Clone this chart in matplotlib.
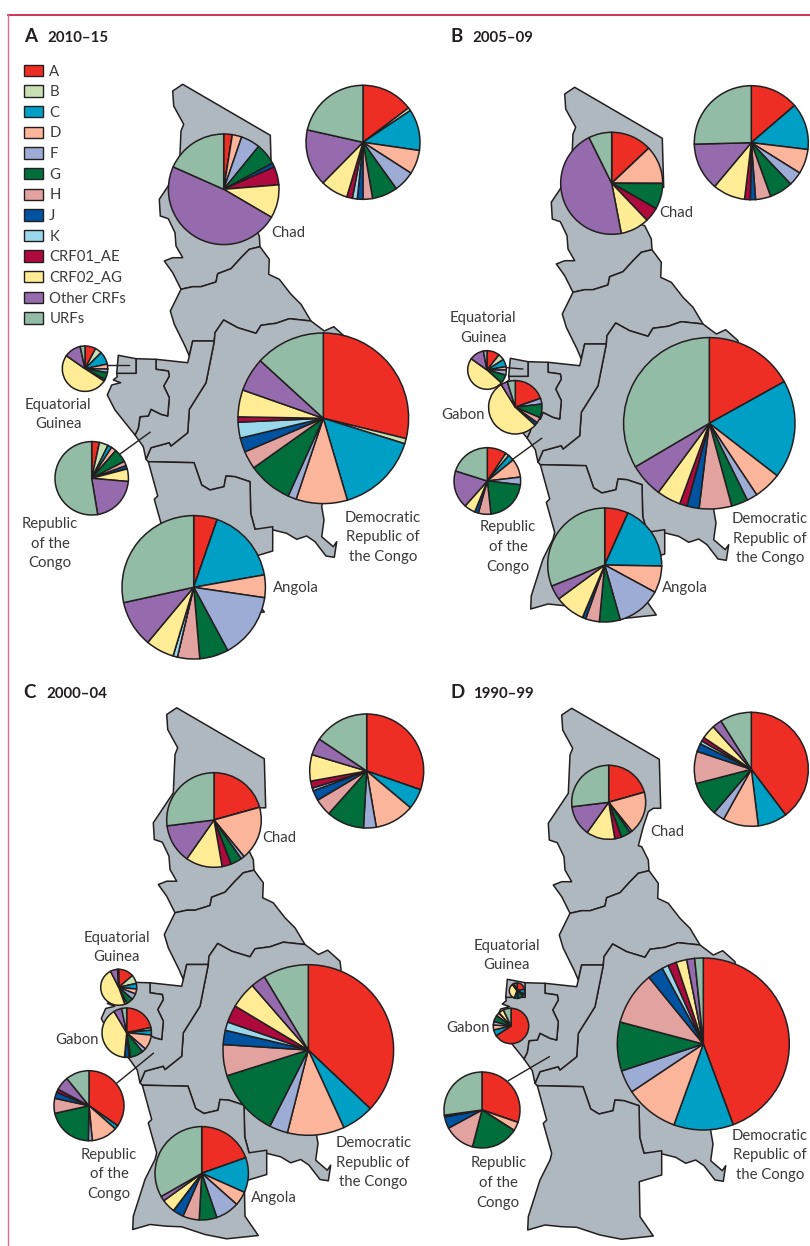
from matplotlib import pyplot as plt
from matplotlib.patches import Patch, Polygon

plt.rcParams['font.family'] = ['Lato', 'DejaVu Sans']

subtypes = ["A", "B", "C", "D", "F", "G", "H", "J", "K", "CRF01_AE", "CRF02_AG", "Other CRFs", "URFs"]
colours = ["#EE2E24", "#C9E0B4", "#00A0C6", "#FBB59B", "#9DACD5", "#006F3C", "#E2A2A0",
           "#0053A0", "#9BD7EA", "#AE0A3E", "#FFEC95", "#956BAD", "#92BCA5"]

# Shares per subtype, same order as subtypes.
#            A     B    C     D     F     G     H    J    K    01   02    oth   urf
a_region = [14.7, 0.9, 11.7, 6.8, 6.0, 7.2, 2.7, 1.6, 1.4, 1.6, 7.8, 16.1, 21.5]
a_chad = [2.5, 0, 0, 2.75, 5.6, 6.3, 0, 1.2, 0, 5.3, 9.7, 48.1, 18.3]
a_eqg = [7.7, 4.8, 9.2, 3.5, 2.6, 5.0, 1.4, 0, 0, 0, 50.4, 11.9, 3.4]
a_congo = [3.4, 3.9, 1.8, 2.3, 0, 6.0, 2.0, 1.5, 0, 0, 5.5, 21.0, 52.6]
a_drc = [28.8, 1.0, 15.6, 9.7, 1.6, 8.4, 3.4, 2.7, 3.0, 1.0, 5.1, 6.4, 13.2]
a_angola = [5.3, 0, 16.9, 5.1, 14.8, 6.5, 5.0, 0, 1.0, 0, 6.4, 10.5, 28.4]

b_region = [13.7, 0, 13.2, 7.0, 4.0, 6.6, 4.3, 1.5, 0, 1.6, 9.2, 13.5, 25.4]
b_chad = [12.9, 0, 0, 12.1, 0, 8.2, 0, 0, 0, 4.6, 9.1, 45.6, 7.3]
b_eqg = [10.7, 5.2, 6.3, 2.8, 4.2, 7.5, 0, 0, 0, 0, 48.2, 12.1, 3.0]
b_gabon = [19.6, 0, 0, 0, 3.4, 8.3, 3.4, 2.0, 0, 0, 54.4, 4.0, 4.8]
b_congo = [9.4, 1.7, 3.0, 9.0, 3.7, 21.4, 6.1, 1.8, 0, 0, 5.4, 18.3, 20.1]
b_drc = [16.9, 0, 18.5, 5.2, 2.0, 3.1, 6.1, 2.3, 0, 1.4, 4.5, 6.4, 33.4]
b_angola = [6.7, 0, 18.6, 7.6, 12.7, 5.9, 3.9, 1.0, 0, 0, 8.5, 4.1, 31.0]

c_region = [30.4, 0, 5.8, 11.2, 3.6, 10.7, 4.9, 2.9, 0.8, 2.0, 7.5, 4.8, 15.6]
c_chad = [20.7, 0, 0, 18.4, 1.2, 3.9, 0, 0, 0, 3.1, 12.5, 13.3, 27.0]
c_eqg = [13.6, 7.7, 5.0, 4.4, 5.3, 6.0, 2.0, 0, 0, 0, 47.5, 6.4, 1.0]
c_gabon = [21.7, 1.7, 3.2, 9.8, 2.6, 8.5, 1.0, 3.0, 0, 0, 40.0, 5.3, 3.3]
c_congo = [34.7, 0, 1.8, 12.0, 1.8, 21.2, 6.9, 2.9, 0, 1.5, 0, 6.3, 10.9]
c_drc = [37.1, 0, 6.1, 10.8, 3.5, 12.7, 5.9, 2.7, 1.6, 3.3, 5.0, 2.8, 8.6]
c_angola = [19.6, 0, 12.1, 4.9, 8.2, 6.1, 5.7, 3.8, 0, 0, 4.7, 1.7, 33.3]

d_region = [39.7, 0, 8.3, 10.0, 3.2, 9.7, 9.1, 2.3, 0.9, 1.1, 4.0, 2.7, 8.9]
d_chad = [20.6, 0, 0, 18.6, 1.0, 4.2, 0, 0, 0, 2.9, 12.5, 13.2, 26.9]
d_eqg = [22, 0, 10, 0, 4, 12, 0, 8, 0, 0, 34, 4, 6]
d_gabon = [65.8, 0, 5.6, 4.4, 3.3, 5.8, 3.4, 0, 0, 0, 4.6, 0, 7.0]
d_congo = [30.2, 0, 0, 3.7, 0, 20.0, 13.0, 5.0, 0, 0.7, 0, 0, 27.1]
d_drc = [44.4, 0, 11.2, 10.1, 4.3, 9.2, 10.0, 3.0, 1.2, 1.6, 2.0, 1.5, 1.6]

# Pie placement in image pixels: values, centre x, centre y, radius
pies = [
    (a_region, 363, 142.3, 57), (a_chad, 223.7, 189.3, 55.3), (a_eqg, 85, 368.7, 22.7),
    (a_congo, 91.7, 478.3, 36.7), (a_drc, 323.3, 418.3, 85.3), (a_angola, 193.7, 587.3, 71.7),
    (b_region, 751.3, 142.7, 57), (b_chad, 611.7, 183.3, 51), (b_eqg, 487, 370, 19.3),
    (b_gabon, 515.3, 407.3, 26.7), (b_congo, 487.3, 481, 33.3), (b_drc, 709.3, 423.3, 85.7),
    (b_angola, 604.7, 565, 57),
    (c_region, 366.7, 771, 57), (c_chad, 214, 820, 47.3), (c_eqg, 118.7, 987.3, 18),
    (c_gabon, 126.7, 1032.7, 24.7), (c_congo, 89, 1105.7, 35), (c_drc, 308.3, 1050, 85.3),
    (c_angola, 201.7, 1173.3, 46.7),
    (d_region, 751.3, 769.3, 57), (d_chad, 608.7, 802.3, 37), (d_eqg, 517, 990.7, 7.7),
    (d_gabon, 511, 1026, 17.7), (d_congo, 482, 1110, 38), (d_drc, 703.3, 1044, 86),
]

# Country outlines, other panels are shifted copies
chad = [(571.7, 708.3), (561.7, 715), (562.7, 730), (572.7, 748.3), (570, 755), (568.3, 793.3),
        (548.3, 823.3), (549.3, 840), (557.3, 842.7), (564, 856.7), (565, 870), (571.7, 881.7),
        (561.7, 881.7), (553.3, 885), (561.7, 896.7), (570, 913.3), (581.7, 910.7), (590, 910.7),
        (605, 906), (606.7, 897.7), (620, 892.7), (630, 881.7), (638.3, 873.3), (649, 870.7),
        (648.3, 860), (641.7, 846.7), (638.3, 845.7), (643.3, 826.7), (648.3, 811.7),
        (653.3, 808.3), (660.7, 808.3), (659.3, 759.3)]
car = [(570, 913.3), (581.7, 910.7), (590, 910.7), (605, 906), (606.7, 897.7), (620, 892.7),
       (630, 881.7), (638.3, 873.3), (649, 870.7), (658.3, 883.3), (657.7, 898.3), (668.3, 903.3),
       (680, 918.3), (690, 928.3), (700, 945), (678.3, 942.7), (665, 947.3), (650, 949.3),
       (645, 957.3), (626.7, 951.7), (612.7, 944), (604, 956.7), (603.3, 965), (581.7, 965),
       (578.3, 980), (574, 970), (563.3, 948.3), (559.3, 935)]
drc = [(604, 956.7), (612.7, 944), (626.7, 951.7), (645, 957.3), (650, 949.3), (665, 947.3),
       (678.3, 942.7), (700, 945), (713.3, 955), (722.7, 950.7), (735, 961.7), (736, 970),
       (710.7, 1130.7), (713, 1144), (710.7, 1160.7), (722.3, 1170.7), (725.7, 1165.7),
       (723.3, 1181.3), (715, 1180), (704, 1165.7), (695.7, 1160), (685.7, 1163.3), (675.7, 1157.3),
       (662.3, 1154), (644, 1153.3), (639.7, 1137.3), (639, 1105.7), (624, 1100.7), (615, 1100),
       (613, 1110.7), (599, 1114), (590.7, 1109), (583, 1086.7), (537.3, 1085.7), (535, 1083.3),
       (540, 1071.7), (558.3, 1066.7), (560, 1070), (576.7, 1056.7), (578.3, 1033.3), (595, 1006.7),
       (603.3, 965)]
congo = [(545, 983.3), (576.7, 986.7), (578.3, 980), (581.7, 965), (603.3, 965), (595, 1006.7),
         (578.3, 1033.3), (576.7, 1056.7), (560, 1070), (558.3, 1066.7), (540, 1071.7), (535, 1083.3),
         (532.3, 1070.7), (524, 1059), (527.3, 1052.3), (529, 1040.7), (537.3, 1040), (540, 1033.3),
         (550, 1038.3), (556.7, 1040), (558.3, 1021.7), (552.7, 1010), (558.3, 1000), (557.3, 995),
         (545, 993.3)]
gabon = [(525, 982.7), (545, 983.3), (545, 993.3), (557.3, 995), (558.3, 1000), (552.7, 1010),
         (558.3, 1021.7), (556.7, 1040), (550, 1038.3), (540, 1033.3), (537.3, 1040), (529, 1040.7),
         (527.3, 1052.3), (524, 1059), (504, 1034), (496.3, 1019), (500.7, 1009), (509.7, 1006.7),
         (502.3, 1004), (506.3, 1000.7), (505.7, 997.3), (525, 997.3)]
eq_guinea = [(507.3, 979.3), (525, 982.7), (525, 997.3), (505.7, 997.3)]
angola = [(537.3, 1085.7), (583, 1086.7), (590.7, 1109), (599, 1114), (613, 1110.7), (615, 1100),
          (624, 1100.7), (639, 1105.7), (639.7, 1137.3), (644, 1153.3), (661.7, 1150.7), (661.7, 1175),
          (639.3, 1181.7), (640, 1216.7), (653.3, 1236), (621.7, 1239.3), (600, 1235), (576.7, 1227.3),
          (561.7, 1226.7), (545, 1225), (527.7, 1230), (528.3, 1216.7), (540, 1180), (550, 1160),
          (551.7, 1153.3), (543.3, 1123.3), (546.7, 1120)]
countries = [chad, car, drc, congo, gabon, eq_guinea, angola]
panel_shift = [(-389, -624), (3, -621), (-395, -0.5), (0, 0)]

panel_letters = ["A", "B", "C", "D"]
panel_years = ["2010–15", "2005–09", "2000–04", "1990–99"]
letter_pos = [(24, 37), (450, 37), (23, 692), (450, 692)]
year_pos = [(47.5, 38.5), (472, 38.5), (46, 693.5), (473.5, 693.5)]

# Label text and centre in image pixels
labels = [
    ("Chad", 288, 232), ("Equatorial\nGuinea", 58.3, 413.5), ("Republic\nof the\nCongo", 50, 542.7),
    ("Democratic\nRepublic of\nthe Congo", 382.7, 536), ("Angola", 295.7, 586.7),
    ("Chad", 676.3, 212.3), ("Equatorial\nGuinea", 483.3, 327), ("Gabon", 463.3, 413.7),
    ("Republic\nof the\nCongo", 508, 546), ("Democratic\nRepublic of\nthe Congo", 770, 537.7),
    ("Angola", 685, 586.7),
    ("Chad", 279.3, 836.7), ("Equatorial\nGuinea", 116.7, 946.7), ("Gabon", 76.7, 1039.3),
    ("Republic\nof the\nCongo", 109, 1173.3), ("Democratic\nRepublic of\nthe Congo", 373.3, 1161.7),
    ("Angola", 274.3, 1196.7),
    ("Chad", 667.7, 830.7), ("Equatorial\nGuinea", 506.7, 954.5), ("Gabon", 467.7, 1027.3),
    ("Republic\nof the\nCongo", 498.3, 1182), ("Democratic\nRepublic of\nthe Congo", 770, 1154.3),
]

leaders = [((107.7, 365), (129.3, 365)), ((120, 454), (150, 432.3)),
           ((507.3, 367.7), (522.7, 369)), ((511.7, 460), (541.7, 438.3)),
           ((117.3, 1082.7), (153.3, 1053.3)), ((508.3, 1080.7), (549.3, 1056.7))]

dark = "#231F20"
text_col = "#3A3A3C"
H = 1246


def flip(pts):
    return [(x, H - y) for x, y in pts]


fig = plt.figure(figsize=(8.10, 12.46), dpi=100)
ax = fig.add_axes([0, 0, 1, 1])

# Page rules
ax.plot([8, 810], [H - 14.5, H - 14.5], color="#C8103F", lw=1.2)
ax.plot([8, 8], [H - 14.5, 0], color="#DC6C92", lw=1.0)

# Maps
for dx, dy in panel_shift:
    for outline in countries:
        pts = flip([(x + dx, y + dy) for x, y in outline])
        ax.add_patch(Polygon(pts, closed=True, facecolor="#B0B8BF", edgecolor=dark, lw=1.1,
                             joinstyle="round"))

for p0, p1 in leaders:
    ax.plot([p0[0], p1[0]], [H - p0[1], H - p1[1]], color=dark, lw=1.0)

# Pies
for values, cx, cy, r in pies:
    ax.pie(values, colors=colours, startangle=90, counterclock=False, center=(cx, H - cy), radius=r,
           wedgeprops={"edgecolor": dark, "linewidth": 1.1}, frame=False)

# Text
for txt, x, y in labels:
    ax.text(x, H - y - 1, txt, ha="center", va="center", fontsize=10.7, color=text_col, linespacing=1.5)

for letter, year, lp, yp in zip(panel_letters, panel_years, letter_pos, year_pos):
    ax.text(lp[0], H - lp[1], letter, ha="left", va="center", fontsize=13.5, fontweight="bold", color=dark)
    ax.text(yp[0], H - yp[1], year, ha="left", va="center", fontsize=10.8, fontweight="bold", color=dark)

handles = [Patch(facecolor=c, edgecolor=dark, lw=1.0) for c in colours]
ax.legend(handles, subtypes, loc="upper left", bbox_to_anchor=(24 / 810, 1 - 64.5 / H), frameon=False,
          fontsize=10.7, labelcolor=text_col, handlelength=1.3, handleheight=0.8, handletextpad=0.4,
          labelspacing=0.447, borderpad=0, borderaxespad=0)

ax.set_xlim(0, 810)
ax.set_ylim(0, H)
ax.set_axis_off()

plt.savefig("out.png", dpi=100)
